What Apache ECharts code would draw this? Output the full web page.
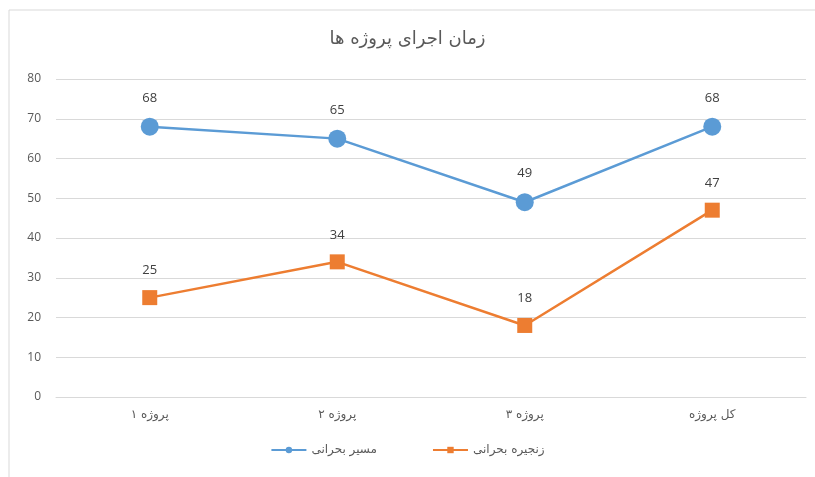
<!DOCTYPE html>
<html><head><meta charset="utf-8">
<script src="https://cdn.jsdelivr.net/npm/echarts@6/dist/echarts.min.js"></script>
<style>html,body{margin:0;padding:0;background:#fff}#c{width:815px;height:477px}</style>
</head><body><div id="c"></div>
<script>
const titleText = 'زمان اجرای پروژه ها';
const categories = ['پروژه ۱', 'پروژه ۲', 'پروژه ۳', 'کل پروژه'];
const seriesNames = ['مسیر بحرانی', 'زنجیره بحرانی'];
const criticalPath = [68, 65, 49, 68];
const criticalChain = [25, 34, 18, 47];
const yTicks = [0, 10, 20, 30, 40, 50, 60, 70, 80];

const chart = echarts.init(document.getElementById('c'));
const labelStyle = {show: true, position: 'top', distance: 13, color: '#404040', fontSize: 13, fontFamily: 'Open Sans'};
chart.setOption({
  animation: false,
  graphic: [{type: 'rect', shape: {x: 9, y: 10, width: 830, height: 490}, style: {fill: 'none', stroke: '#d9d9d9', lineWidth: 1}, z: -1}],
  title: {text: titleText, left: 'center', top: 25, textStyle: {color: '#595959', fontSize: 18, fontWeight: 'normal', fontFamily: 'DejaVu Sans'}},
  grid: {left: 56, right: 9, top: 79, bottom: 80},
  legend: {bottom: 16, left: 'center', itemWidth: 35, itemHeight: 8, itemGap: 55,
    textStyle: {color: '#595959', fontSize: 12, fontFamily: 'DejaVu Sans'},
    data: seriesNames},
  xAxis: {type: 'category', data: categories, boundaryGap: true,
    axisLine: {lineStyle: {color: '#d9d9d9'}}, axisTick: {show: false},
    axisLabel: {color: '#595959', fontSize: 12, fontFamily: 'DejaVu Sans', margin: 12}},
  yAxis: {type: 'value', min: yTicks[0], max: yTicks[yTicks.length - 1], interval: 10,
    axisLine: {show: false}, axisTick: {show: false},
    splitLine: {lineStyle: {color: '#d9d9d9'}},
    axisLabel: {color: '#595959', fontSize: 12, fontFamily: 'Open Sans', margin: 15}},
  series: [
    {name: seriesNames[0], type: 'line', data: criticalPath, symbol: 'circle', symbolSize: 18,
      lineStyle: {color: '#5B9BD5', width: 2.5}, itemStyle: {color: '#5B9BD5'}, label: labelStyle},
    {name: seriesNames[1], type: 'line', data: criticalChain, symbol: 'rect', symbolSize: 15,
      lineStyle: {color: '#ED7D31', width: 2.5}, itemStyle: {color: '#ED7D31'}, label: labelStyle}
  ]
});
</script></body></html>
